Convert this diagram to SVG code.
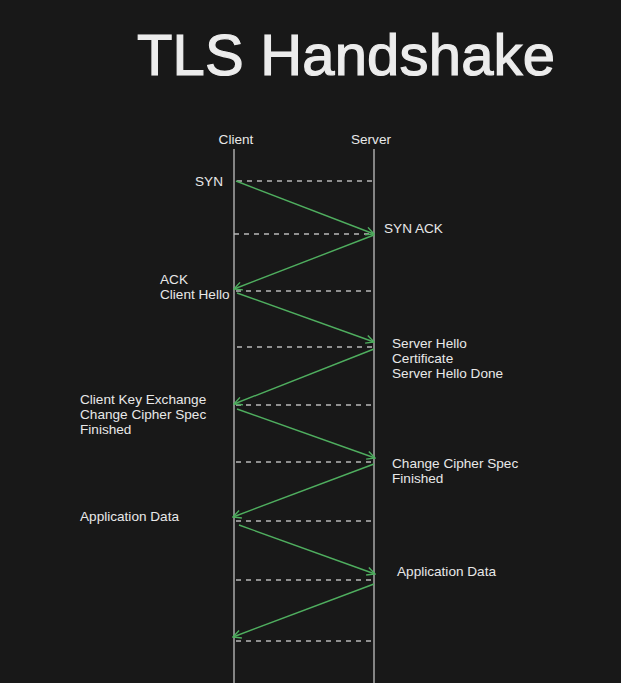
<svg xmlns="http://www.w3.org/2000/svg" width="621" height="683" viewBox="0 0 621 683">
<style>
.t{font-family:"Liberation Sans",Arial,sans-serif;font-size:13.6px;fill:#e8e8e8}
.life{stroke:#a8a8a8;stroke-width:1.5;fill:none}
.dash{stroke:#b8b8b8;stroke-width:1.4;stroke-dasharray:5 5;fill:none}
.msg{stroke:#4fae5f;stroke-width:1.4;fill:none;marker-end:url(#ah)}
</style>
<defs>
<marker id="ah" viewBox="0 0 10 10" refX="9" refY="5" markerWidth="10" markerHeight="10" markerUnits="userSpaceOnUse" orient="auto">
<path d="M1,1 L9,5 L1,9" fill="none" stroke="#4fae5f" stroke-width="1.4"/>
</marker>
</defs>
<rect width="621" height="683" fill="#181818"/>
<text x="137" y="75" font-family="Liberation Sans,Arial,sans-serif" font-size="58" fill="#ececec" stroke="#ececec" stroke-width="1.2" textLength="418">TLS Handshake</text>
<g id="client">
<text class="t" x="236" y="144" text-anchor="middle">Client</text>
<line class="life" x1="234" y1="149" x2="234" y2="683"/>
</g>
<g id="server">
<text class="t" x="371" y="144" text-anchor="middle">Server</text>
<line class="life" x1="374" y1="149" x2="374" y2="683"/>
</g>
<g id="connectors">
<line class="dash" x1="237" y1="181" x2="372" y2="181"/>
<line class="dash" x1="234" y1="234" x2="372" y2="234"/>
<line class="dash" x1="236" y1="291" x2="372" y2="291"/>
<line class="dash" x1="237" y1="347" x2="372" y2="347"/>
<line class="dash" x1="236" y1="405" x2="372" y2="405"/>
<line class="dash" x1="236" y1="462" x2="372" y2="462"/>
<line class="dash" x1="236" y1="521" x2="372" y2="521"/>
<line class="dash" x1="236" y1="580" x2="372" y2="580"/>
<line class="dash" x1="236" y1="641" x2="372" y2="641"/>
<line class="msg" x1="236" y1="181" x2="374" y2="234"/>
<line class="msg" x1="374" y1="235" x2="234" y2="289"/>
<line class="msg" x1="237" y1="293" x2="374" y2="342"/>
<line class="msg" x1="374" y1="349" x2="234" y2="404"/>
<line class="msg" x1="237" y1="409" x2="375" y2="458"/>
<line class="msg" x1="374" y1="464" x2="233" y2="517"/>
<line class="msg" x1="239" y1="525" x2="375" y2="574"/>
<line class="msg" x1="374" y1="584" x2="233" y2="637"/>
</g>
<g id="labels">
<text class="t" x="195" y="186">SYN</text>
<text class="t" x="384" y="233">SYN ACK</text>
<text class="t" x="160" y="284">ACK</text>
<text class="t" x="160" y="299">Client Hello</text>
<text class="t" x="392" y="348">Server Hello</text>
<text class="t" x="392" y="363">Certificate</text>
<text class="t" x="392" y="378">Server Hello Done</text>
<text class="t" x="80" y="404">Client Key Exchange</text>
<text class="t" x="80" y="419">Change Cipher Spec</text>
<text class="t" x="80" y="434">Finished</text>
<text class="t" x="392" y="468">Change Cipher Spec</text>
<text class="t" x="392" y="483">Finished</text>
<text class="t" x="80" y="521">Application Data</text>
<text class="t" x="397" y="576">Application Data</text>
</g>
</svg>
